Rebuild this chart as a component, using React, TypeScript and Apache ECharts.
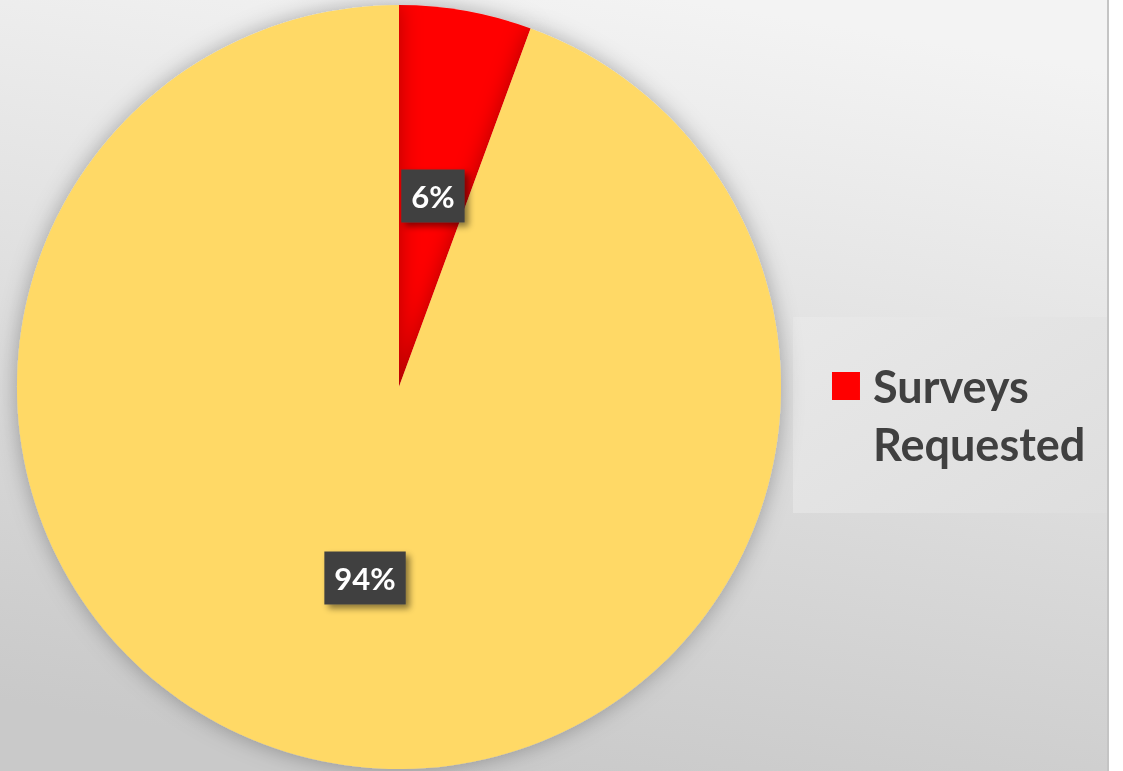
import React, { useEffect, useRef } from "react";
import * as echarts from "echarts";

const categories = ["Surveys Requested", "Surveys Not Requested"];
const values = [5.6, 94.4];
const colors = ["#FF0000", "#FFD966"];
const legendItems = ["Surveys Requested"];

export default function App() {
  const ref = useRef<HTMLDivElement>(null);
  useEffect(() => {
    if (!ref.current) return;
    const chart = echarts.init(ref.current, null, { renderer: "svg" });
    chart.setOption({
      animation: false,
      graphic: [
        {
          type: "rect",
          z: -10,
          silent: true,
          shape: { x: 0, y: 0, width: 1107, height: 771 },
          style: {
            fill: new echarts.graphic.LinearGradient(0.62, 0, 0.38, 1, [
              { offset: 0, color: "#f3f3f3" },
              { offset: 1, color: "#c9c9c9" },
            ]),
          },
        },
        {
          type: "rect",
          z: -9,
          silent: true,
          shape: { x: 1107, y: 0, width: 2, height: 771 },
          style: { fill: "#c4c4c4" },
        },
        {
          type: "rect",
          z: -8,
          silent: true,
          shape: { x: 793, y: 317, width: 314, height: 196 },
          style: {
            fill: new echarts.graphic.LinearGradient(0, 0, 1, 1, [
              { offset: 0, color: "#e8e8e8" },
              { offset: 1, color: "#dedede" },
            ]),
          },
        },
      ],
      legend: {
        data: legendItems,
        left: 832,
        top: 357,
        padding: 0,
        orient: "vertical",
        itemWidth: 28,
        itemHeight: 86,
        itemGap: 13,
        icon: "path://M0 0H28V28H0Z M0 86H0.05V86.05H0Z",
        formatter: () => "Surveys\nRequested",
        textStyle: {
          fontFamily: "Lato",
          fontWeight: "bold",
          fontSize: 45,
          lineHeight: 58,
          color: "#404040",
          padding: [0, 0, 0, 8],
        },
      },
      series: [
        {
          type: "pie",
          center: [399, 387],
          radius: 382,
          startAngle: 90,
          clockwise: true,
          percentPrecision: 0,
          data: categories.map((name, i) => ({
            name,
            value: values[i],
            itemStyle: { color: colors[i] },
          })),
          itemStyle: {
            borderWidth: 0,
            shadowBlur: 22,
            shadowColor: "rgba(0,0,0,0.3)",
          },
          label: {
            show: true,
            position: "inside",
            formatter: "{d}%",
            fontFamily: "Lato",
            fontWeight: "bold",
            fontSize: 31,
            color: "#ffffff",
            backgroundColor: "#404040",
            padding: [11, 10, 11, 10],
            shadowColor: "rgba(0,0,0,0.45)",
            shadowBlur: 6,
            shadowOffsetX: 4,
            shadowOffsetY: 4,
          },
          labelLine: { show: false },
          emphasis: { disabled: true },
        },
      ],
    });
    return () => chart.dispose();
  }, []);
  return (
    <div
      ref={ref}
      style={{ position: "fixed", left: 0, top: 0, width: 1123, height: 771 }}
    />
  );
}
